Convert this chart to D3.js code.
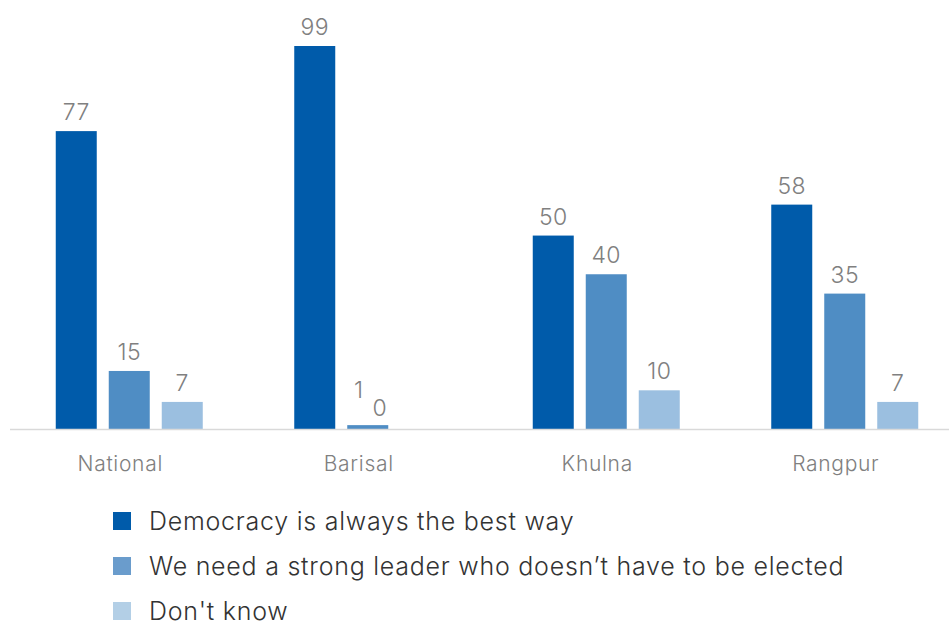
<!DOCTYPE html>
<html>
<head>
<meta charset="utf-8">
<script src="https://cdn.jsdelivr.net/npm/d3@7/dist/d3.min.js"></script>
<style>
  html, body { margin: 0; padding: 0; background: #fff; }
  svg { display: block; font-family: Inter, Roboto, sans-serif; }
</style>
</head>
<body>
<svg id="chart" width="949" height="621"></svg>
<script>
// Regions and answer options
const regions = ["National", "Barisal", "Khulna", "Rangpur"];
const seriesNames = [
  "Democracy is always the best way",
  "We need a strong leader who doesn\u2019t have to be elected",
  "Don't know"
];
// Percent values per series, in region order
const democracy = [77, 99, 50, 58];
const strongLeader = [15, 1, 40, 35];
const dontKnow = [7, 0, 10, 7];

const barColors = ["#005BAA", "#4F8DC4", "#9BBFE0"];
const legendColors = ["#005BAA", "#6A9CCC", "#B3CFE6"];

const svg = d3.select("#chart");
const baseY = 429;

const x0 = d3.scaleBand().domain(regions).range([10, 964]).paddingInner(0).paddingOuter(0);
const x1 = d3.scaleBand().domain([0, 1, 2]).range([0, 147]).paddingInner(12 / 53).paddingOuter(0);
const y = d3.scaleLinear().domain([0, 99]).range([baseY, 46]);

const series = [democracy, strongLeader, dontKnow];
const rows = [];
series.forEach((vals, s) => vals.forEach((v, i) => rows.push({ region: regions[i], s, v })));

const groupLeft = r => x0(r) + (x0.bandwidth() - 147) / 2;

// bars
svg.append("g").selectAll("rect")
  .data(rows.filter(d => d.v > 0))
  .join("rect")
  .attr("x", d => groupLeft(d.region) + x1(d.s))
  .attr("y", d => y(d.v))
  .attr("width", x1.bandwidth())
  .attr("height", d => baseY - y(d.v))
  .attr("fill", d => barColors[d.s]);

// baseline
svg.append("line")
  .attr("x1", 10).attr("x2", 949)
  .attr("y1", baseY + 0.5).attr("y2", baseY + 0.5)
  .attr("stroke", "#d9d9d9").attr("stroke-width", 1.5);

// value labels; tiny Barisal values are nudged apart so they stay readable
const nudge = (d) => {
  if (d.region === "Barisal" && d.s === 1) return { dx: -9, dy: -16 };
  if (d.region === "Barisal" && d.s === 2) return { dx: -41, dy: -2 };
  return { dx: 0, dy: 0 };
};
svg.append("g").selectAll("text")
  .data(rows)
  .join("text")
  .attr("x", d => groupLeft(d.region) + x1(d.s) + x1.bandwidth() / 2 + nudge(d).dx)
  .attr("y", d => y(d.v) - 11 + nudge(d).dy)
  .attr("text-anchor", "middle")
  .attr("font-size", 23)
  .attr("font-weight", 300)
  .attr("letter-spacing", 0.4)
  .attr("fill", "#808080")
  .text(d => d.v);

// category axis labels
const xAxis = d3.axisBottom(x0).tickSize(0).tickPadding(0);
const ax = svg.append("g").attr("transform", `translate(-9,${baseY})`).call(xAxis);
ax.select(".domain").remove();
ax.selectAll("text")
  .attr("y", 42)
  .attr("dy", 0)
  .attr("font-size", 21)
  .attr("font-weight", 300)
  .attr("letter-spacing", 0.7)
  .attr("font-family", "Inter, sans-serif")
  .attr("fill", "#808080");

// legend
const lg = svg.append("g").selectAll("g")
  .data(seriesNames)
  .join("g")
  .attr("transform", (d, i) => `translate(113,${512 + i * 45})`);
lg.append("rect").attr("width", 18).attr("height", 18).attr("fill", (d, i) => legendColors[i]);
lg.append("text")
  .attr("x", 36).attr("y", 18)
  .attr("font-size", 25)
  .attr("font-weight", 300)
  .attr("letter-spacing", 0.75)
  .attr("fill", "#333")
  .text(d => d);
</script>
</body>
</html>
